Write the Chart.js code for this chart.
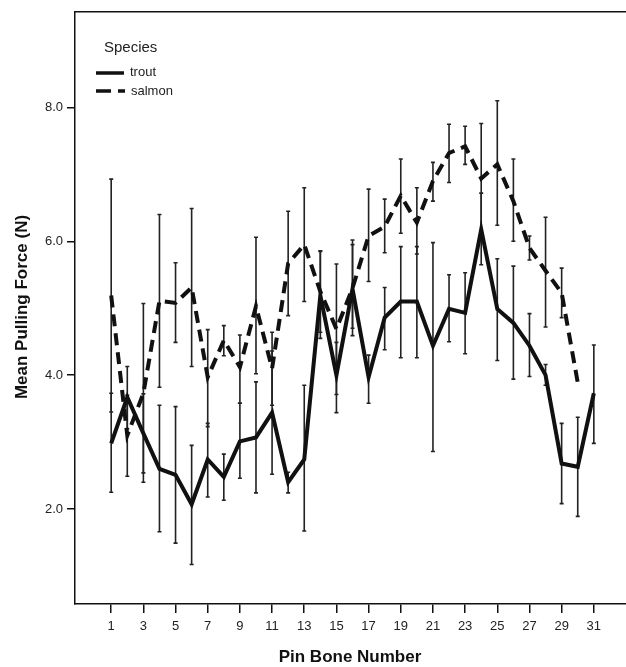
<!DOCTYPE html>
<html>
<head>
<meta charset="utf-8">
<script src="https://cdn.jsdelivr.net/npm/chart.js@4"></script>
<style>
  html, body { margin: 0; padding: 0; background: #fff; }
  #chart { display: block; }
</style>
</head>
<body>
<canvas id="chart" width="626" height="667"></canvas>
<script>
// pin bone numbers
const troutPins = [1, 2, 3, 4, 5, 6, 7, 8, 9, 10, 11, 12, 13, 14, 15, 16, 17, 18, 19, 20, 21, 22, 23, 24, 25, 26, 27, 28, 29, 30, 31];
const salmonPins = [1, 2, 3, 4, 5, 6, 7, 8, 9, 10, 11, 12, 13, 14, 15, 16, 17, 18, 19, 20, 21, 22, 23, 24, 25, 26, 27, 28, 29, 30];

// mean pulling force (N) and error bar ends
const troutMean = [2.98, 3.67, 3.13, 2.60, 2.51, 2.07, 2.74, 2.48, 3.01, 3.07, 3.44, 2.40, 2.74, 5.19, 4.00, 5.29, 3.97, 4.86, 5.10, 5.10, 4.44, 4.99, 4.93, 6.18, 4.99, 4.78, 4.44, 4.00, 2.68, 2.63, 3.73];
const troutLow  = [2.25, 3.20, 2.54, 1.66, 1.49, 1.17, 2.18, 2.13, 2.46, 2.24, 2.52, 2.24, 1.67, 4.55, 3.44, 4.59, 3.58, 4.38, 4.26, 4.26, 2.86, 4.50, 4.32, 5.65, 4.22, 3.94, 3.98, 3.85, 2.08, 1.89, 2.98];
const troutHigh = [3.73, 4.13, 3.72, 3.55, 3.53, 2.95, 3.28, 2.82, 3.58, 3.90, 4.36, 2.55, 3.85, 5.85, 4.49, 6.02, 4.30, 5.31, 5.92, 5.92, 5.98, 5.50, 5.53, 6.72, 5.74, 5.63, 4.92, 4.16, 3.28, 3.37, 4.45];

const salmonMean = [5.19, 3.10, 3.73, 5.11, 5.08, 5.31, 3.97, 4.52, 4.12, 5.03, 4.10, 5.67, 5.95, 5.25, 4.69, 5.30, 6.08, 6.22, 6.68, 6.28, 6.90, 7.32, 7.42, 6.94, 7.15, 6.60, 5.90, 5.56, 5.23, 3.89];
const salmonLow  = [3.45, 2.49, 2.40, 3.82, 4.49, 4.13, 3.23, 4.29, 3.58, 4.02, 3.55, 4.89, 5.10, 4.64, 3.71, 4.70, 5.40, 5.83, 6.12, 5.81, 6.60, 6.88, 7.15, 6.12, 6.24, 6.00, 5.72, 4.72, 4.86, 3.89];
const salmonHigh = [6.93, 3.70, 5.07, 6.40, 5.68, 6.49, 4.68, 4.74, 4.60, 6.06, 4.64, 6.45, 6.80, 5.86, 5.66, 5.95, 6.78, 6.63, 7.23, 6.80, 7.18, 7.75, 7.72, 7.76, 8.10, 7.23, 6.08, 6.36, 5.60, 3.89];

const xTickValues = [1, 3, 5, 7, 9, 11, 13, 15, 17, 19, 21, 23, 25, 27, 29, 31];
const yTickValues = [2, 4, 6, 8];

const FONT = '"Liberation Sans", Arial, sans-serif';

function toPoints(xs, ys) {
    return xs.map((x, i) => ({ x: x, y: ys[i] }));
}

// error bars, drawn from the scales
const errorBars = {
    id: 'errorBars',
    beforeDatasetsDraw(chart) {
        const ctx = chart.ctx;
        const xs = chart.scales.x, ys = chart.scales.y;
        const sets = [[troutPins, troutLow, troutHigh], [salmonPins, salmonLow, salmonHigh]];
        ctx.save();
        ctx.strokeStyle = '#222';
        ctx.lineWidth = 1.6;
        sets.forEach(([pins, lo, hi]) => {
            pins.forEach((p, i) => {
                if (hi[i] - lo[i] < 0.01) return;
                const x = xs.getPixelForValue(p);
                const y1 = ys.getPixelForValue(lo[i]);
                const y2 = ys.getPixelForValue(hi[i]);
                ctx.beginPath();
                ctx.moveTo(x, y1); ctx.lineTo(x, y2);
                ctx.moveTo(x - 2, y1); ctx.lineTo(x + 2, y1);
                ctx.moveTo(x - 2, y2); ctx.lineTo(x + 2, y2);
                ctx.stroke();
            });
        });
        ctx.restore();
    }
};

// frame top line, axis titles and the species legend
const decorations = {
    id: 'decorations',
    afterDraw(chart) {
        const ctx = chart.ctx;
        const a = chart.chartArea;
        ctx.save();
        ctx.strokeStyle = '#111';
        ctx.lineWidth = 1.5;
        ctx.beginPath();
        ctx.moveTo(a.left, a.top);
        ctx.lineTo(a.right, a.top);
        ctx.stroke();

        ctx.fillStyle = '#111';
        ctx.font = 'bold 17px ' + FONT;
        ctx.textAlign = 'center';
        ctx.textBaseline = 'middle';
        ctx.fillText('Pin Bone Number', 350, 657);
        ctx.save();
        ctx.translate(22, 307);
        ctx.rotate(-Math.PI / 2);
        ctx.fillText('Mean Pulling Force (N)', 0, 0);
        ctx.restore();

        ctx.textAlign = 'left';
        ctx.fillStyle = '#222';
        ctx.font = '15px ' + FONT;
        ctx.fillText('Species', 104, 48);
        ctx.font = '13px ' + FONT;
        ctx.fillText('trout', 130, 72);
        ctx.fillText('salmon', 131, 91);
        ctx.strokeStyle = '#111';
        ctx.lineWidth = 3.5;
        ctx.beginPath();
        ctx.moveTo(96, 73); ctx.lineTo(124, 73);
        ctx.moveTo(96, 91); ctx.lineTo(111, 91);
        ctx.moveTo(118, 91); ctx.lineTo(125, 91);
        ctx.stroke();
        ctx.restore();
    }
};

const ctx = document.getElementById('chart').getContext('2d');
new Chart(ctx, {
    type: 'line',
    data: {
        datasets: [{
            label: 'trout',
            data: toPoints(troutPins, troutMean),
            borderColor: '#111',
            borderWidth: 4,
            pointRadius: 0,
            tension: 0,
            fill: false
        }, {
            label: 'salmon',
            data: toPoints(salmonPins, salmonMean),
            borderColor: '#111',
            borderWidth: 4,
            borderDash: [12, 7],
            pointRadius: 0,
            tension: 0,
            fill: false
        }]
    },
    options: {
        responsive: false,
        animation: false,
        layout: { padding: { top: 10, right: 0, left: 0, bottom: 0 } },
        plugins: {
            legend: { display: false },
            tooltip: { enabled: false }
        },
        scales: {
            x: {
                type: 'linear',
                min: -1.25,
                max: 33,
                afterFit: s => { s.height = 63; },
                afterBuildTicks: s => { s.ticks = xTickValues.map(v => ({ value: v })); },
                grid: { drawOnChartArea: false, drawTicks: true, tickLength: 9, color: '#111', lineWidth: 1.5 },
                border: { display: true, color: '#111', width: 1.5 },
                ticks: { padding: 6, color: '#222', font: { family: FONT, size: 13 }, maxRotation: 0, autoSkip: false }
            },
            y: {
                min: 0.58,
                max: 9.43,
                afterFit: s => { s.width = 75; },
                afterBuildTicks: s => { s.ticks = yTickValues.map(v => ({ value: v })); },
                grid: { drawOnChartArea: false, drawTicks: true, tickLength: 8, color: '#111', lineWidth: 1.5 },
                border: { display: true, color: '#111', width: 1.5 },
                ticks: { padding: 4, color: '#222', font: { family: FONT, size: 13 }, callback: v => v.toFixed(1) }
            }
        }
    },
    plugins: [errorBars, decorations]
});
</script>
</body>
</html>
